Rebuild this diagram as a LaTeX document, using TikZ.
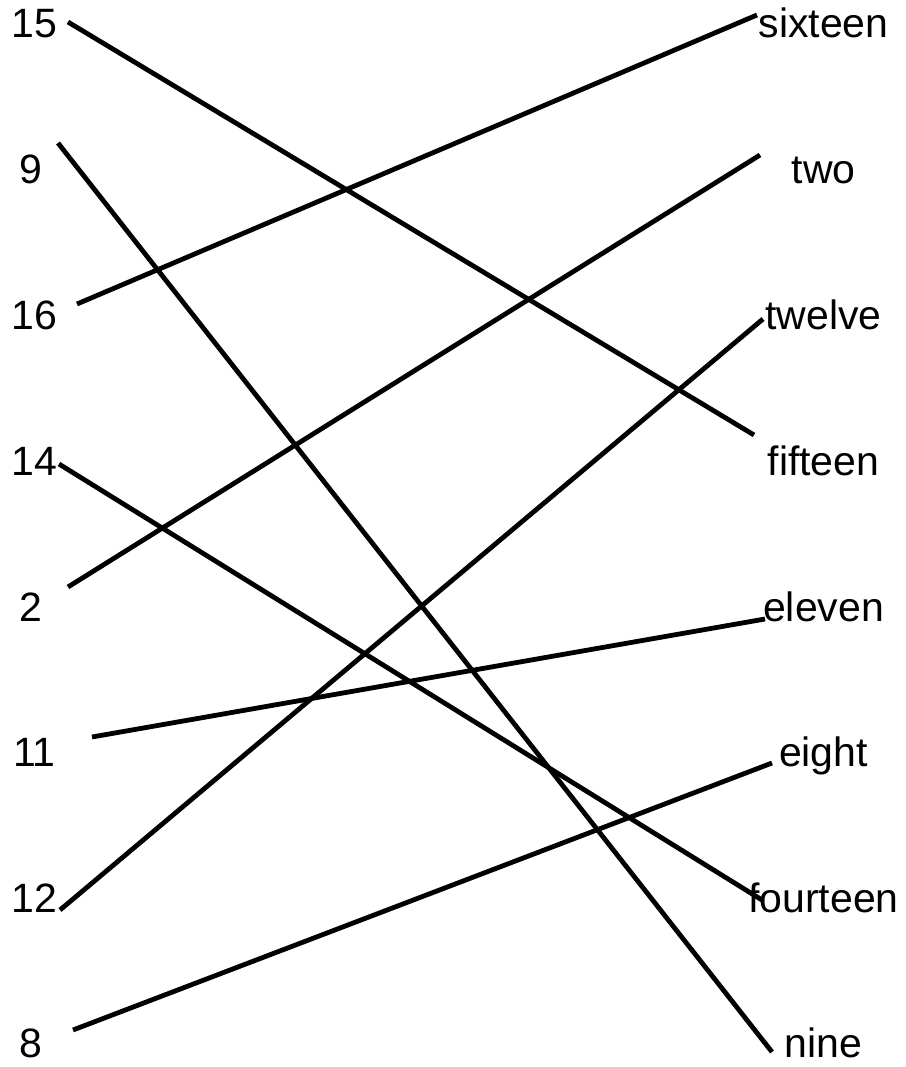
\documentclass[tikz,border=0pt]{standalone}
\usepackage{fontspec}
\setmainfont{Liberation Sans}
\begin{document}
\begin{tikzpicture}[x=1pt,y=-1pt,
  lbl/.style={anchor=base,inner sep=0pt,font=\fontsize{41}{46}\selectfont},
  link/.style={line width=4.8pt,black}]
\useasboundingbox[fill=white] (0,0) rectangle (905,1067);
% left labels
\node[lbl] (l15) at (34.5,38) {15};
\node[lbl] (l9)  at (31,184) {9};
\node[lbl] (l16) at (34.5,329) {16};
\node[lbl] (l14) at (34.5,475) {14};
\node[lbl] (l2)  at (31,621) {2};
\node[lbl] (l11) at (34.5,766) {11};
\node[lbl] (l12) at (34.5,912) {12};
\node[lbl] (l8)  at (31,1057) {8};
% right labels
\node[lbl] (rsixteen)  at (823.5,38) {sixteen};
\node[lbl] (rtwo)      at (823.5,184) {two};
\node[lbl] (rtwelve)   at (823.5,329) {twelve};
\node[lbl] (rfifteen)  at (823.5,475) {fifteen};
\node[lbl] (releven)   at (823.5,621) {eleven};
\node[lbl] (reight)    at (823.5,766) {eight};
\node[lbl] (rfourteen) at (823.5,912) {fourteen};
\node[lbl] (rnine)     at (823.5,1057) {nine};
% line ends
\coordinate (a15) at (68,22);
\coordinate (a9)  at (58,143);
\coordinate (a16) at (77,304);
\coordinate (a14) at (59,464);
\coordinate (a2)  at (68,587);
\coordinate (a11) at (92,737);
\coordinate (a12) at (60,910);
\coordinate (a8)  at (73,1030);
\coordinate (bsixteen)  at (757,15);
\coordinate (btwo)      at (760,155);
\coordinate (btwelve)   at (763,319);
\coordinate (bfifteen)  at (754,435);
\coordinate (beleven)   at (765,619);
\coordinate (beight)    at (772,763);
\coordinate (bfourteen) at (762,900);
\coordinate (bnine)     at (772,1052);
% connectors
\draw[link] (a15) -- (bfifteen);
\draw[link] (a9)  -- (bnine);
\draw[link] (a16) -- (bsixteen);
\draw[link] (a14) -- (bfourteen);
\draw[link] (a2)  -- (btwo);
\draw[link] (a11) -- (beleven);
\draw[link] (a12) -- (btwelve);
\draw[link] (a8)  -- (beight);
\end{tikzpicture}
\end{document}
